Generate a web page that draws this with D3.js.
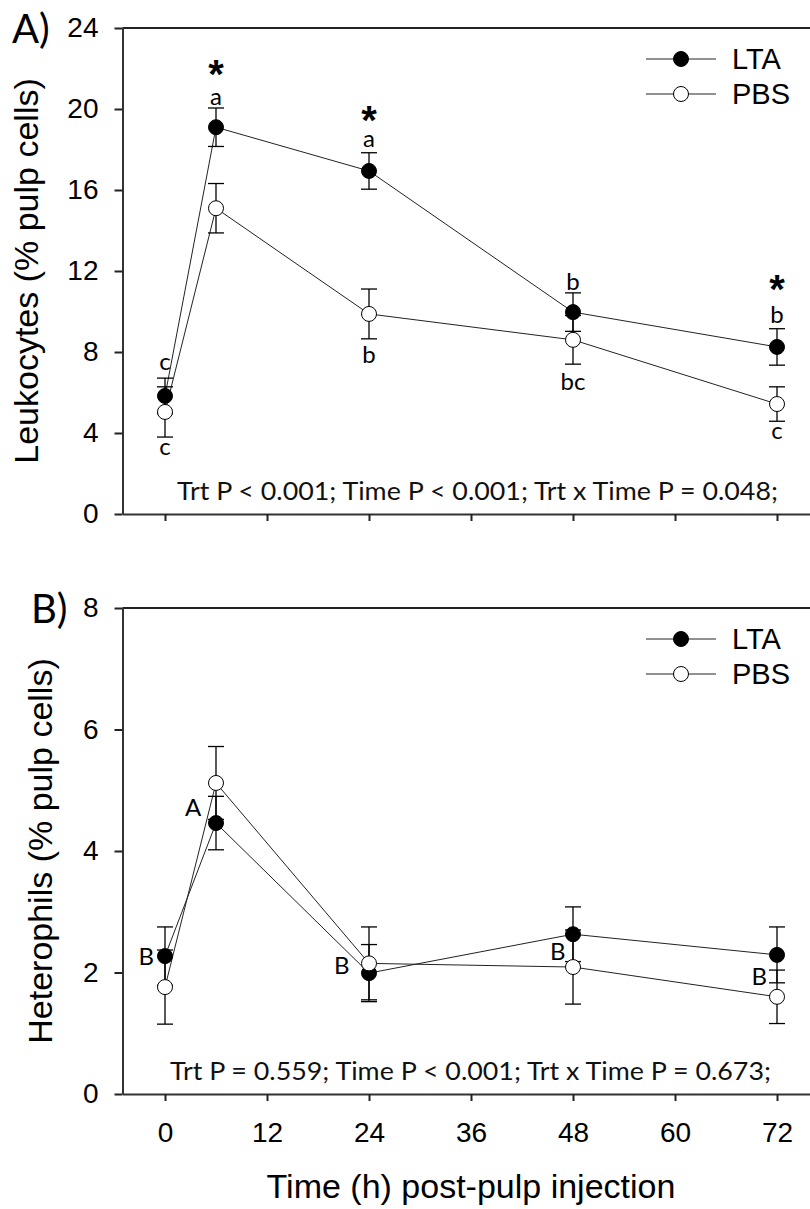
<!DOCTYPE html>
<html>
<head>
<meta charset="utf-8">
<script src="https://cdn.jsdelivr.net/npm/d3@7"></script>
<style>
  body { margin: 0; background: #fff; }
  svg { display: block; }
</style>
</head>
<body>
<svg id="chart" width="810" height="1209"></svg>
<script>
// sampling times (h) and axis ticks
const times = [0, 6, 24, 48, 72];
const timeTicks = [0, 12, 24, 36, 48, 60, 72];
const leukoTicks = [0, 4, 8, 12, 16, 20, 24];
const heteroTicks = [0, 2, 4, 6, 8];

// A) leukocytes, mean and SE
const leukoLTA = [5.83, 19.1, 16.94, 9.97, 8.25];
const leukoLTAse = [0.88, 0.95, 0.9, 0.95, 0.9];
const leukoPBS = [5.04, 15.1, 9.88, 8.6, 5.43];
const leukoPBSse = [1.24, 1.22, 1.23, 1.2, 0.85];

// B) heterophils, mean and SE
const heteroLTA = [2.27, 4.46, 1.99, 2.63, 2.29];
const heteroLTAse = [0.48, 0.44, 0.47, 0.45, 0.46];
const heteroPBS = [1.76, 5.12, 2.15, 2.09, 1.6];
const heteroPBSse = [0.61, 0.6, 0.6, 0.61, 0.44];

// significance letters: time, value at text baseline, label
const leukoLetters = [
  { t: 0, v: 7.11, text: "c" }, { t: 0, v: 2.91, text: "c" },
  { t: 6, v: 20.2, text: "a" }, { t: 24, v: 18.12, text: "a" },
  { t: 24, v: 7.46, text: "b" }, { t: 48, v: 11.06, text: "b" },
  { t: 48, v: 6.12, text: "bc" }, { t: 72, v: 9.43, text: "b" },
  { t: 72, v: 3.7, text: "c" }
];
const leukoStars = [
  { t: 6, v: 22.1 }, { t: 24, v: 19.85 }, { t: 72, v: 11.5 }
];
const heteroLetters = [
  { t: 3.3, v: 4.58, text: "A" }, { t: -2.2, v: 2.13, text: "B" },
  { t: 20.8, v: 1.97, text: "B" }, { t: 46.2, v: 2.2, text: "B" },
  { t: 69.9, v: 1.79, text: "B" }
];

const statsText = [
  "Trt P < 0.001; Time P < 0.001; Trt x Time P = 0.048;",
  "Trt P = 0.559; Time P < 0.001; Trt x Time P = 0.673;"
];
const legendItems = [
  { name: "LTA", fill: "#000" },
  { name: "PBS", fill: "#fff" }
];

const svg = d3.select("#chart");
const axisFont = "'Liberation Sans', Arial, sans-serif";
const noteFont = "Lato, 'Open Sans', sans-serif";

const x = d3.scaleLinear().domain([-5, 76]).range([122.5, 811]);

function rows(means, ses) {
  return times.map((t, i) => ({ t, v: means[i], se: ses[i] }));
}

function drawPanel(cfg) {
  const y = d3.scaleLinear().domain(cfg.domain).range([cfg.bottom, cfg.top]);
  const g = svg.append("g");

  // top frame line
  g.append("line")
    .attr("x1", x.range()[0]).attr("x2", 810)
    .attr("y1", cfg.top).attr("y2", cfg.top)
    .attr("stroke", "#222").attr("stroke-width", 2);

  const xAxis = g.append("g")
    .attr("transform", `translate(0,${cfg.bottom})`)
    .call(d3.axisBottom(x).tickValues(timeTicks).tickSize(7).tickSizeOuter(0).tickPadding(21)
      .tickFormat(cfg.showX ? d3.format("d") : () => ""));

  const yAxis = g.append("g")
    .attr("transform", `translate(${x.range()[0]},0)`)
    .call(d3.axisLeft(y).tickValues(cfg.ticks).tickSize(8).tickSizeOuter(0).tickPadding(16));

  [xAxis, yAxis].forEach((a) => {
    a.select(".domain").attr("stroke", "#333").attr("stroke-width", 2);
    a.selectAll(".tick line").attr("stroke", "#222").attr("stroke-width", 2);
    a.selectAll(".tick text")
      .attr("fill", "#000")
      .style("font-family", axisFont)
      .style("font-size", "28px");
  });

  // y title
  g.append("text")
    .attr("transform", `translate(${cfg.titleX},${(cfg.top + cfg.bottom) / 2}) rotate(-90)`)
    .attr("text-anchor", "middle")
    .style("font-family", axisFont)
    .style("font-size", "34px")
    .text(cfg.title);

  // panel tag
  g.append("text")
    .attr("x", cfg.tagX).attr("y", cfg.tagY)
    .style("font-family", noteFont)
    .style("font-size", "40px")
    .text(cfg.tag);

  const line = d3.line().x((d) => x(d.t)).y((d) => y(d.v));

  cfg.series.forEach((s) => {
    g.append("path")
      .datum(s.rows)
      .attr("d", line)
      .attr("fill", "none")
      .attr("stroke", "#222")
      .attr("stroke-width", 1);
  });

  cfg.series.forEach((s) => {
    const eb = g.append("g").attr("stroke", "#000").attr("stroke-width", 1.3);
    eb.selectAll("line.bar")
      .data(s.rows).join("line")
      .attr("x1", (d) => x(d.t)).attr("x2", (d) => x(d.t))
      .attr("y1", (d) => y(d.v - d.se)).attr("y2", (d) => y(d.v + d.se));
    eb.selectAll("line.cap-hi")
      .data(s.rows).join("line").attr("class", "cap-hi")
      .attr("x1", (d) => x(d.t) - 8).attr("x2", (d) => x(d.t) + 8)
      .attr("y1", (d) => y(d.v + d.se)).attr("y2", (d) => y(d.v + d.se));
    eb.selectAll("line.cap-lo")
      .data(s.rows).join("line").attr("class", "cap-lo")
      .attr("x1", (d) => x(d.t) - 8).attr("x2", (d) => x(d.t) + 8)
      .attr("y1", (d) => y(d.v - d.se)).attr("y2", (d) => y(d.v - d.se));
  });

  cfg.series.forEach((s) => {
    g.selectAll(null)
      .data(s.rows).join("circle")
      .attr("cx", (d) => x(d.t)).attr("cy", (d) => y(d.v))
      .attr("r", 7.5)
      .attr("fill", s.fill)
      .attr("stroke", "#000").attr("stroke-width", 1);
  });

  g.selectAll(null)
    .data(cfg.letters).join("text")
    .attr("x", (d) => x(d.t)).attr("y", (d) => y(d.v))
    .attr("text-anchor", "middle")
    .style("font-family", noteFont)
    .style("font-size", "24px")
    .text((d) => d.text);

  g.selectAll(null)
    .data(cfg.stars || []).join("text")
    .attr("x", (d) => x(d.t)).attr("y", (d) => y(d.v))
    .attr("dy", "0.55em")
    .attr("text-anchor", "middle")
    .style("font-family", axisFont)
    .style("font-weight", "bold")
    .style("font-size", "40px")
    .text("*");

  g.append("text")
    .attr("x", cfg.statsX).attr("y", cfg.bottom - 14)
    .attr("textLength", 601)
    .attr("lengthAdjust", "spacingAndGlyphs")
    .style("font-family", noteFont)
    .style("font-size", "25px")
    .attr("fill", "#111")
    .text(cfg.stats);

  // legend
  const lg = g.append("g");
  legendItems.forEach((item, i) => {
    const ly = cfg.top + 31 + i * 35;
    lg.append("line")
      .attr("x1", 646).attr("x2", 716).attr("y1", ly).attr("y2", ly)
      .attr("stroke", "#222").attr("stroke-width", 1);
    lg.append("circle")
      .attr("cx", 681).attr("cy", ly).attr("r", 7.5)
      .attr("fill", item.fill).attr("stroke", "#000");
    lg.append("text")
      .attr("x", 732).attr("y", ly)
      .attr("dy", "0.36em")
      .style("font-family", axisFont)
      .style("font-size", "29px")
      .text(item.name);
  });
}

drawPanel({
  domain: [0, 24], top: 28, bottom: 514, ticks: leukoTicks, showX: false,
  title: "Leukocytes (% pulp cells)", titleX: 38, tag: "A)", tagX: 12, tagY: 43,
  series: [
    { rows: rows(leukoLTA, leukoLTAse), fill: "#000" },
    { rows: rows(leukoPBS, leukoPBSse), fill: "#fff" }
  ],
  letters: leukoLetters, stars: leukoStars, stats: statsText[0], statsX: 177
});

drawPanel({
  domain: [0, 8], top: 608, bottom: 1094, ticks: heteroTicks, showX: true,
  title: "Heterophils (% pulp cells)", titleX: 52, tag: "B)", tagX: 31, tagY: 623,
  series: [
    { rows: rows(heteroLTA, heteroLTAse), fill: "#000" },
    { rows: rows(heteroPBS, heteroPBSse), fill: "#fff" }
  ],
  letters: heteroLetters, stats: statsText[1], statsX: 170
});

svg.append("text")
  .attr("x", 471).attr("y", 1198)
  .attr("text-anchor", "middle")
  .style("font-family", axisFont)
  .style("font-size", "34px")
  .text("Time (h) post-pulp injection");
</script>
</body>
</html>
